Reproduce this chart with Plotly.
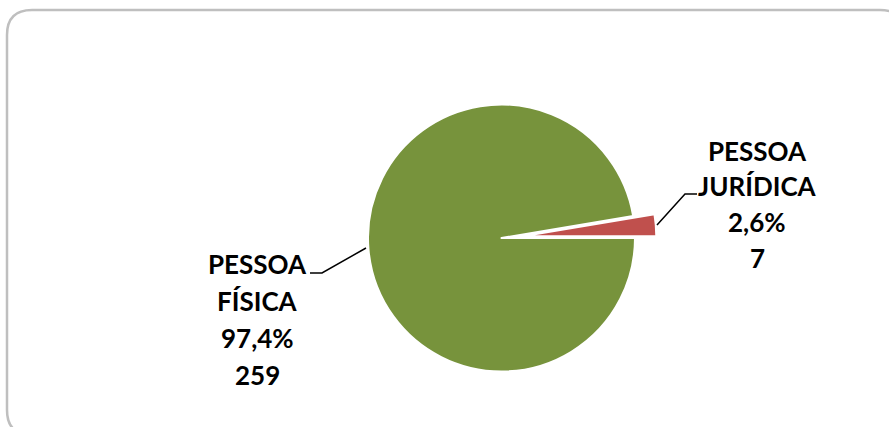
import plotly.graph_objects as go

categories = ["PESSOA JURÍDICA", "PESSOA FÍSICA"]
label_lines = [["PESSOA", "JURÍDICA"], ["PESSOA", "FÍSICA"]]
values = [7, 259]
colors = ["#C0504D", "#77933C"]
pulls = [0.16, 0.0]

W, H = 889, 427

def px(x):
    return x / W

def py(y):
    return 1 - y / H

total = sum(values)
pcts = [v / total * 100 for v in values]

# pie domain: center, base radius, room for pull
cx, cy, r = 501.5, 238, 133.5
half = r * (1 + max(pulls))
fig = go.Figure(go.Pie(
    labels=categories,
    values=values,
    marker=dict(colors=colors, line=dict(color="white", width=2)),
    pull=pulls,
    sort=False,
    direction="counterclockwise",
    rotation=90 - 360 * values[0] / total,
    textinfo="none",
    hoverinfo="label+value+percent",
    domain=dict(x=[px(cx - half), px(cx + half)], y=[py(cy + half), py(cy - half)]),
    showlegend=False,
))

font = dict(family="Lato, Carlito, sans-serif", size=26, color="black")

def label_text(i):
    lines = label_lines[i] + [f"{pcts[i]:.1f}%".replace(".", ","), str(values[i])]
    return lines

annotations = []
for k, t in enumerate(label_text(0)):
    annotations.append(dict(x=px(757), y=py(151 + 35.5 * k), xref="paper", yref="paper",
                            text=f"<b>{t}</b>", showarrow=False, font=font,
                            xanchor="center", yanchor="middle"))
for k, t in enumerate(label_text(1)):
    annotations.append(dict(x=px(257), y=py(264 + 37 * k), xref="paper", yref="paper",
                            text=f"<b>{t}</b>", showarrow=False, font=font,
                            xanchor="center", yanchor="middle"))

def pts_path(pts):
    return "M " + " L ".join(f"{px(a)},{py(b)}" for a, b in pts)

shapes = [
    dict(type="path", xref="paper", yref="paper",
         path=pts_path([(310, 273), (322, 273), (366, 248)]),
         line=dict(color="black", width=1.5)),
    dict(type="path", xref="paper", yref="paper",
         path=pts_path([(657, 225), (685, 194), (697, 194)]),
         line=dict(color="black", width=1.5)),
]

x0, y0, x1, y1, rr = 7, 10, 905, 435, 25
border = (f"M {px(x0)},{py(y0+rr)} Q {px(x0)},{py(y0)} {px(x0+rr)},{py(y0)} "
          f"L {px(x1-rr)},{py(y0)} Q {px(x1)},{py(y0)} {px(x1)},{py(y0+rr)} "
          f"L {px(x1)},{py(y1-rr)} Q {px(x1)},{py(y1)} {px(x1-rr)},{py(y1)} "
          f"L {px(x0+rr)},{py(y1)} Q {px(x0)},{py(y1)} {px(x0)},{py(y1-rr)} Z")
shapes.append(dict(type="path", xref="paper", yref="paper", path=border,
                   line=dict(color="#BFBFBF", width=2.5)))

fig.update_layout(
    width=W, height=H,
    margin=dict(l=0, r=0, t=0, b=0),
    paper_bgcolor="white",
    plot_bgcolor="white",
    annotations=annotations,
    shapes=shapes,
)

fig.write_html("out.html", config={"displayModeBar": False})
